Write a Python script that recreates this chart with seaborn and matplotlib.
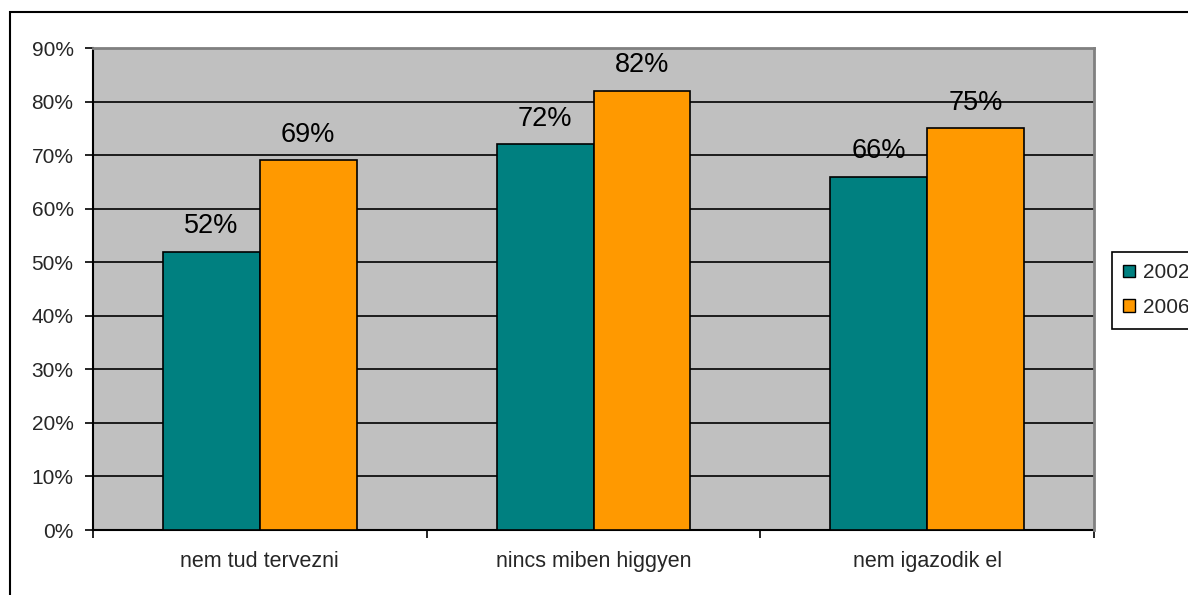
import pandas as pd
import matplotlib.pyplot as plt
import matplotlib.patches as mpatches
from matplotlib.ticker import PercentFormatter, FixedLocator
import seaborn as sns

# Data
categories = ['nem tud tervezni', 'nincs miben higgyen', 'nem igazodik el']
years = ['2002', '2006']
share_2002 = [0.52, 0.72, 0.66]
share_2006 = [0.69, 0.82, 0.75]
y_ticks = [0.0, 0.1, 0.2, 0.3, 0.4, 0.5, 0.6, 0.7, 0.8, 0.9]

colors = {'2002': '#008080', '2006': '#FF9900'}

# Long-form table for seaborn
data = pd.DataFrame({
    'category': categories * 2,
    'year': [years[0]] * len(categories) + [years[1]] * len(categories),
    'share': share_2002 + share_2006,
})

sns.set_style('white')
plt.rcParams['font.family'] = ['Liberation Sans', 'DejaVu Sans']

fig = plt.figure(figsize=(11.88, 5.95), dpi=100)
ax = fig.add_axes([93 / 1188, 65 / 595, 1001 / 1188, 482 / 595])
ax.set_facecolor('#C0C0C0')

sns.barplot(data=data, x='category', y='share', hue='year', order=categories,
            hue_order=years, palette=colors, width=0.58, gap=0,
            edgecolor='black', linewidth=1.2, saturation=1, ax=ax, zorder=3,
            legend=False)

# Value labels above the bars
for container in ax.containers:
    ax.bar_label(container, fmt='{:.0%}', padding=9, fontsize=19.5, color='black')

# Y axis
ax.set_ylim(0, 0.9)
ax.yaxis.set_major_locator(FixedLocator(y_ticks))
ax.yaxis.set_major_formatter(PercentFormatter(1.0, decimals=0))
ax.yaxis.grid(True, color='black', linewidth=1.2, zorder=0)
ax.set_axisbelow(True)
ax.tick_params(axis='y', direction='out', length=6, width=1.2, pad=8,
               labelsize=15, left=True, color='black')

# X axis: labels in the middle, tick marks at the category borders
ax.set_xlim(-0.5, len(categories) - 0.5)
ax.set_xticks(range(len(categories)))
ax.set_xticklabels(categories)
ax.set_xticks([i - 0.5 for i in range(len(categories) + 1)], minor=True)
ax.tick_params(axis='x', which='major', length=0, pad=15, labelsize=15.5)
ax.tick_params(axis='x', which='minor', direction='out', length=6, width=1.2,
               bottom=True, color='black')
ax.set_xlabel('')
ax.set_ylabel('')

for side in ['left', 'bottom']:
    ax.spines[side].set_color('black')
    ax.spines[side].set_linewidth(1.5)
for side in ['top', 'right']:
    ax.spines[side].set_color('#808080')
    ax.spines[side].set_linewidth(2)
    ax.spines[side].set_zorder(4)

# Legend at the right edge (partly cut off like the original)
handles = [mpatches.Patch(facecolor=colors[y], edgecolor='black', linewidth=1)
           for y in years]
fig.legend(handles, years, loc='upper left',
           bbox_to_anchor=(1112 / 1188, 1 - 252 / 595), fontsize=15,
           frameon=True, fancybox=False, edgecolor='black', framealpha=1,
           handlelength=0.55, handleheight=0.55, handletextpad=0.4,
           labelspacing=0.75, borderpad=0.55, borderaxespad=0)
leg = fig.legends[0]
leg.get_frame().set_linewidth(1.2)

# Outer chart frame
fig.patches.append(mpatches.Rectangle((10 / 1188, -0.05), 1.2, 1 - 12 / 595 + 0.05,
                                      transform=fig.transFigure, fill=False,
                                      edgecolor='black', linewidth=1.5))

fig.savefig('out.png', dpi=100)
